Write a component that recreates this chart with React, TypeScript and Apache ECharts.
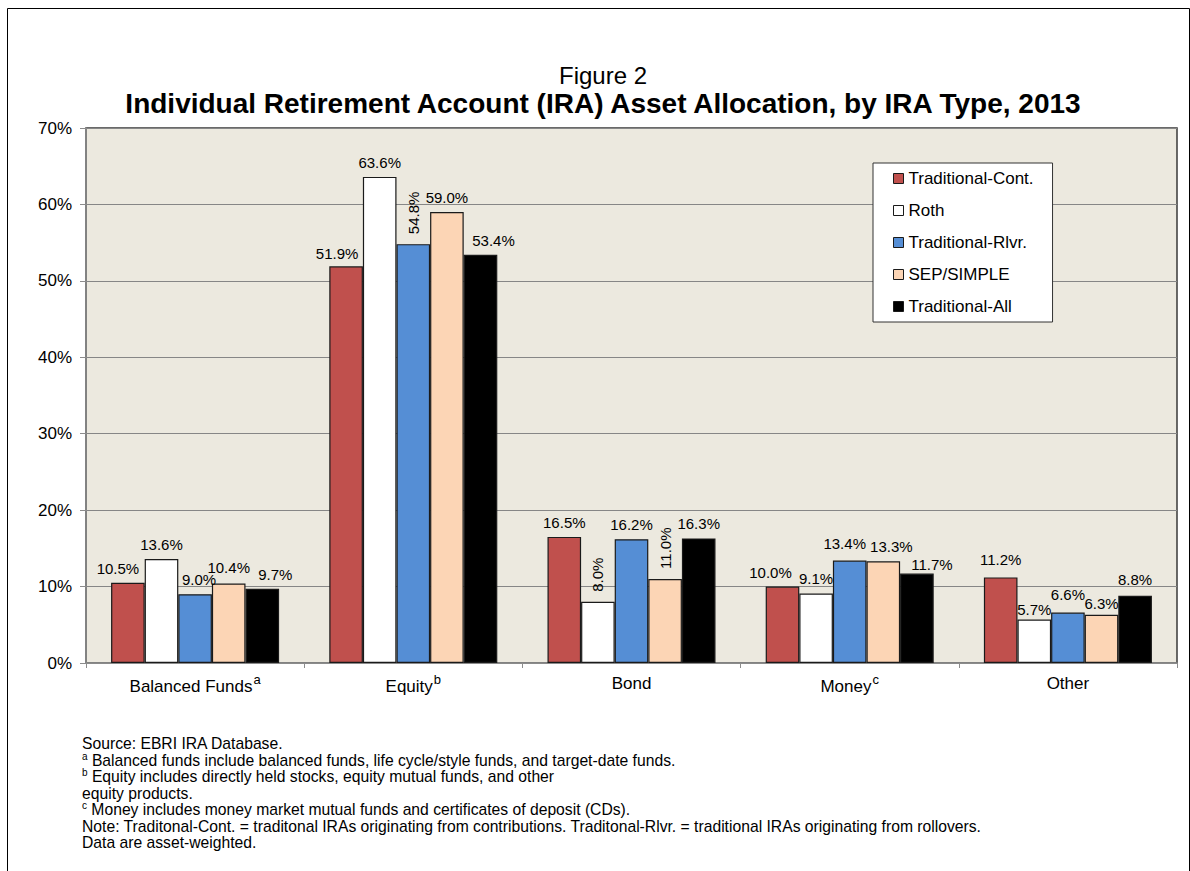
import React, { useEffect, useRef } from "react";
import * as echarts from "echarts";

const categories = ["Balanced Funds", "Equity", "Bond", "Money", "Other"];
const categorySup = ["a", "b", "", "c", ""];
const seriesNames = ["Traditional-Cont.", "Roth", "Traditional-Rlvr.", "SEP/SIMPLE", "Traditional-All"];
const tradCont = [10.5, 51.9, 16.5, 10.0, 11.2];
const roth = [13.6, 63.6, 8.0, 9.1, 5.7];
const tradRlvr = [9.0, 54.8, 16.2, 13.4, 6.6];
const sepSimple = [10.4, 59.0, 11.0, 13.3, 6.3];
const tradAll = [9.7, 53.4, 16.3, 11.7, 8.8];
const seriesValues = [tradCont, roth, tradRlvr, sepSimple, tradAll];

const yMin = 0;
const yMax = 70;
const yStep = 10;

const footnotes = [
  "Source: EBRI IRA Database.",
  "{s|a} Balanced funds include balanced funds, life cycle/style funds, and target-date funds.",
  "{s|b} Equity includes directly held stocks, equity mutual funds, and other",
  "equity products.",
  "{s|c} Money includes money market mutual funds and certificates of deposit (CDs).",
  "Note: Traditonal-Cont. = traditonal IRAs originating from contributions. Traditonal-Rlvr. = traditional IRAs originating from rollovers.",
  "Data are asset-weighted.",
];

// styling
const colors = ["#C0504D", "#FFFFFF", "#558ED5", "#FCD5B5", "#000000"];
const FONT = "'Liberation Sans', Arial, sans-serif";

// label placement tweaks: [seriesIdx][catIdx] -> offset [dx, dy] or "rot"
const labelTweaks: Record<string, any> = {
  "0-0": [-10, 0],
  "2-0": [4, 0],
  "3-0": [0, -2],
  "4-0": [13, 0],
  "0-1": [-9, 2],
  "2-1": "rot",
  "4-1": [13, 0],
  "1-2": "rot",
  "3-2": "rot",
  "0-3": [-12, 0],
  "2-3": [-5, -3],
  "3-3": [8, 0],
  "4-3": [15, 5],
  "0-4": [0, -3],
  "1-4": [0, 5],
  "2-4": [0, -4],
  "3-4": [0, 3],
  "4-4": [0, -2],
};

export default function App() {
  const ref = useRef<HTMLDivElement>(null);
  useEffect(() => {
    if (!ref.current) return;
    const chart = echarts.init(ref.current, null, { renderer: "svg" });

    const series = seriesValues.map((vals, si) => ({
      name: seriesNames[si],
      type: "bar",
      barGap: "0%",
      barCategoryGap: "23%",
      itemStyle: { color: colors[si], borderColor: "#1a1a1a", borderWidth: 1.2 },
      label: {
        show: true,
        position: "top",
        distance: 7,
        fontFamily: FONT,
        fontSize: 15,
        color: "#000",
        formatter: (p: any) => Number(p.value).toFixed(1) + "%",
      },
      data: vals.map((v, ci) => {
        const t = labelTweaks[`${si}-${ci}`];
        if (t === "rot") {
          return {
            value: v,
            label: { rotate: 90, align: "left", verticalAlign: "middle", distance: 10 },
          };
        }
        if (t) return { value: v, label: { offset: t } };
        return { value: v };
      }),
    }));

    const graphics: any[] = [
      {
        type: "polyline",
        shape: { points: [[7.5, 900], [7.5, 8.5], [1189.5, 8.5], [1189.5, 900]] },
        style: { stroke: "#000", lineWidth: 1, fill: null },
        silent: true,
      },
      {
        type: "text",
        x: 603,
        y: 75,
        style: {
          text: "Figure 2",
          font: `normal 24px ${FONT}`,
          fill: "#000",
          textAlign: "center",
          textVerticalAlign: "middle",
        },
      },
      {
        type: "text",
        x: 603,
        y: 103,
        style: {
          text: "Individual Retirement Account (IRA) Asset Allocation, by IRA Type, 2013",
          font: `bold 28px ${FONT}`,
          fill: "#000",
          textAlign: "center",
          textVerticalAlign: "middle",
        },
      },
    ];
    const lineYs = [743, 760, 776, 793, 809, 826, 842];
    footnotes.forEach((t, i) => {
      graphics.push({
        type: "text",
        x: 82,
        y: lineYs[i],
        style: {
          text: t,
          fontFamily: FONT,
          fontSize: 15.7,
          fill: "#000",
          textVerticalAlign: "middle",
          rich: {
            s: { fontSize: 10, fontFamily: FONT, padding: [0, 0, 7, 0], fill: "#000" },
          },
        },
      });
    });

    chart.setOption({
      animation: false,
      backgroundColor: "#fff",
      grid: {
        left: 86,
        top: 128,
        right: 13,
        bottom: 208,
        show: true,
        backgroundColor: "#ECE9DF",
        borderColor: "#3a3a3a",
        borderWidth: 1.5,
        containLabel: false,
        outerBoundsMode: "none",
      },
      legend: {
        orient: "vertical",
        left: 873,
        top: 163,
        padding: [7, 19, 7, 20],
        itemGap: 15,
        itemWidth: 10,
        itemHeight: 10,
        itemStyle: { borderColor: "#1a1a1a", borderWidth: 1 },
        icon: "rect",
        backgroundColor: "#fff",
        borderColor: "#333",
        borderWidth: 1,
        itemTextGap: 4,
        textStyle: { fontFamily: FONT, fontSize: 17, color: "#000" },
        data: seriesNames,
      },
      xAxis: {
        type: "category",
        data: categories,
        axisLine: { lineStyle: { color: "#8c8c8c", width: 1.5 } },
        axisTick: { show: true, length: 5, lineStyle: { color: "#8c8c8c" } },
        axisLabel: {
          interval: 0,
          margin: 10,
          color: "#000",
          fontFamily: FONT,
          fontSize: 17,
          formatter: (v: string) => {
            const i = categories.indexOf(v);
            const sup = categorySup[i];
            return sup ? `{n|${v}}{s|${sup}}` : `{n|${v}}`;
          },
          rich: {
            n: { fontFamily: FONT, fontSize: 17, color: "#000", lineHeight: 20 },
            s: {
              fontFamily: FONT,
              fontSize: 13,
              color: "#000",
              padding: [0, 0, 14, 1],
            },
          },
        },
      },
      yAxis: {
        type: "value",
        min: yMin,
        max: yMax,
        interval: yStep,
        axisLine: { show: true, lineStyle: { color: "#8c8c8c", width: 1.5 } },
        axisTick: { show: true, length: 6, lineStyle: { color: "#8c8c8c" } },
        splitLine: { lineStyle: { color: "#868686", width: 1 } },
        axisLabel: {
          margin: 14,
          color: "#000",
          fontFamily: FONT,
          fontSize: 17,
          formatter: "{value}%",
        },
      },
      series,
      graphic: graphics,
    } as any);

    return () => chart.dispose();
  }, []);

  return (
    <div
      ref={ref}
      style={{ position: "fixed", left: 0, top: 0, width: 1190, height: 871 }}
    />
  );
}
